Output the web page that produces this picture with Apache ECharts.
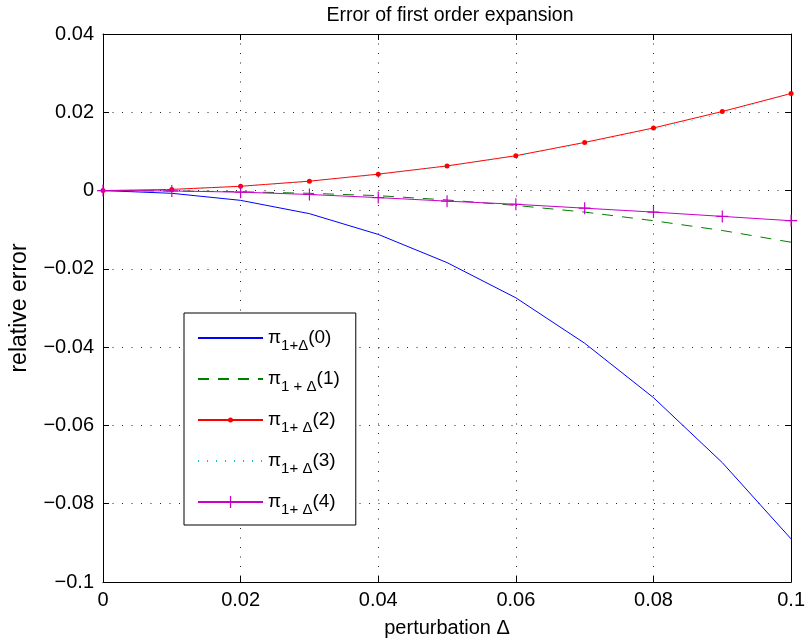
<!DOCTYPE html>
<html>
<head>
<meta charset="utf-8">
<script src="https://cdn.jsdelivr.net/npm/echarts@6/dist/echarts.min.js"></script>
<style>
html,body{margin:0;padding:0;background:#fff;}
#chart{width:808px;height:644px;}
</style>
</head>
<body>
<div id="chart"></div>
<script>
// ---- data ----
const xValues = [0, 0.01, 0.02, 0.03, 0.04, 0.05, 0.06, 0.07, 0.08, 0.09, 0.1];
const order0 = [0, -0.0007, -0.0025, -0.0059, -0.0112, -0.0184, -0.0274, -0.0390, -0.0529, -0.0695, -0.0890];
const order1 = [0, -0.0001, -0.0003, -0.0007, -0.0013, -0.0024, -0.0038, -0.0055, -0.0077, -0.0102, -0.0132];
const order2 = [0, 0.0003, 0.0011, 0.0024, 0.0042, 0.0063, 0.0089, 0.0123, 0.0160, 0.0202, 0.0248];
const order3 = [0, 0.0003, 0.0011, 0.0023, 0.0041, 0.0062, 0.0088, 0.0121, 0.0157, 0.0197, 0.0248];
const order4 = [0, -0.0001, -0.0004, -0.0010, -0.0018, -0.0027, -0.0035, -0.0045, -0.0055, -0.0066, -0.0077];
const seriesNames = ['s0', 's1', 's2', 's3', 's4'];
const legendLabels = [['1+Δ', '(0)'], ['1 + Δ', '(1)'], ['1+ Δ', '(2)'], ['1+ Δ', '(3)'], ['1+ Δ', '(4)']];
const titleText = 'Error of first order expansion';
const xName = 'perturbation Δ';
const yName = 'relative error';

const FONT = '"Liberation Sans", Arial, Helvetica, sans-serif';
const pairs = ys => xValues.map((x, i) => [x, ys[i]]);
const fmt = v => {
  const s = String(parseFloat(v.toFixed(4)));
  return s.replace('-', '\u2212');
};

const dotSymbol = 'path://M-6,-6 M6,6 M0,-2.5 A2.5,2.5 0 1 1 0,2.5 A2.5,2.5 0 1 1 0,-2.5 Z';
const plusSymbol = 'path://M-6,-0.6 L6,-0.6 L6,0.6 L-6,0.6 Z M-0.6,-6 L0.6,-6 L0.6,6 L-0.6,6 Z';

const chart = echarts.init(document.getElementById('chart'), null, {renderer: 'canvas'});
const legendMap = {};
seriesNames.forEach((n, i) => legendMap[n] = legendLabels[i]);
const noMarker = {s0: true, s1: true, s3: true};

const option = {
  animation: false,
  backgroundColor: '#fff',
  textStyle: {fontFamily: FONT},
  title: {
    text: titleText,
    left: 445, top: 1, textAlign: 'center',
    textStyle: {fontFamily: FONT, fontSize: 19.5, fontWeight: 'normal', color: '#000'}
  },
  grid: {left: 97, right: 15, top: 34, bottom: 62, show: false},
  legend: {
    orient: 'vertical',
    left: 184, top: 313,
    data: seriesNames.map(n => noMarker[n] ? {name: n, itemStyle: {opacity: 0}} : {name: n}),
    itemWidth: 65, itemHeight: 15, itemGap: 11,
    padding: [10, 16, 8, 13],
    borderColor: '#000', borderWidth: 1, backgroundColor: '#fff',
    formatter: name => '{p|π}{s|' + legendMap[name][0] + '}{n|' + legendMap[name][1] + '}',
    textStyle: {
      fontFamily: FONT, color: '#000',
      rich: {
        p: {fontSize: 19, fontFamily: FONT, color: '#000', lineHeight: 30, verticalAlign: 'middle'},
        s: {fontSize: 15, fontFamily: FONT, color: '#000', lineHeight: 15, padding: [15, 0, 0, 0], verticalAlign: 'bottom'},
        n: {fontSize: 19, fontFamily: FONT, color: '#000', lineHeight: 30, verticalAlign: 'middle'}
      }
    }
  },
  xAxis: [{
    type: 'value', min: 0, max: 0.1, interval: 0.02,
    name: xName, nameLocation: 'middle', nameGap: 36,
    nameTextStyle: {fontFamily: FONT, fontSize: 20, color: '#000'},
    axisLine: {show: true, onZero: false, lineStyle: {color: '#000', width: 1}},
    axisTick: {show: true, inside: true, length: 6, lineStyle: {color: '#000'}},
    axisLabel: {formatter: fmt, fontFamily: FONT, fontSize: 20, color: '#000', margin: 8},
    splitLine: {show: true, lineStyle: {color: '#222', type: [1, 8.5], width: 1}}
  }, {
    type: 'value', min: 0, max: 0.1, interval: 0.02, position: 'top',
    axisLine: {show: true, onZero: false, lineStyle: {color: '#000', width: 1}},
    axisTick: {show: true, inside: true, length: 6, lineStyle: {color: '#000'}},
    axisLabel: {show: false}, splitLine: {show: false}
  }],
  yAxis: [{
    type: 'value', min: -0.1, max: 0.04, interval: 0.02,
    name: yName, nameLocation: 'middle', nameGap: 72, nameRotate: 90,
    nameTextStyle: {fontFamily: FONT, fontSize: 23, color: '#000'},
    axisLine: {show: true, onZero: false, lineStyle: {color: '#000', width: 1}},
    axisTick: {show: true, inside: true, length: 6, lineStyle: {color: '#000'}},
    axisLabel: {formatter: fmt, fontFamily: FONT, fontSize: 20, color: '#000', margin: 9},
    splitLine: {show: true, lineStyle: {color: '#222', type: [1, 8.5], width: 1}}
  }, {
    type: 'value', min: -0.1, max: 0.04, interval: 0.02, position: 'right',
    axisLine: {show: true, onZero: false, lineStyle: {color: '#000', width: 1}},
    axisTick: {show: true, inside: true, length: 6, lineStyle: {color: '#000'}},
    axisLabel: {show: false}, splitLine: {show: false}
  }],
  series: [
    {name: 's0', type: 'line', data: pairs(order0), symbol: 'none',
     lineStyle: {color: '#0000ff', width: 1}, itemStyle: {color: '#0000ff'}},
    {name: 's1', type: 'line', data: pairs(order1), symbol: 'none',
     lineStyle: {color: '#008000', width: 1, type: [11, 9]}, itemStyle: {color: '#008000'}},
    {name: 's2', type: 'line', data: pairs(order2), symbol: dotSymbol, symbolSize: 12,
     lineStyle: {color: '#ff0000', width: 1}, itemStyle: {color: '#ff0000'}},
    {name: 's3', type: 'line', data: pairs(order3), symbol: 'none',
     lineStyle: {color: '#00c8d8', width: 1, type: [1, 8]}, itemStyle: {color: '#00c8d8'}},
    {name: 's4', type: 'line', data: pairs(order4), symbol: plusSymbol, symbolSize: 12,
     lineStyle: {color: '#c800c8', width: 1}, itemStyle: {color: '#c800c8'}}
  ]
};
chart.setOption(option);
</script>
</body>
</html>
